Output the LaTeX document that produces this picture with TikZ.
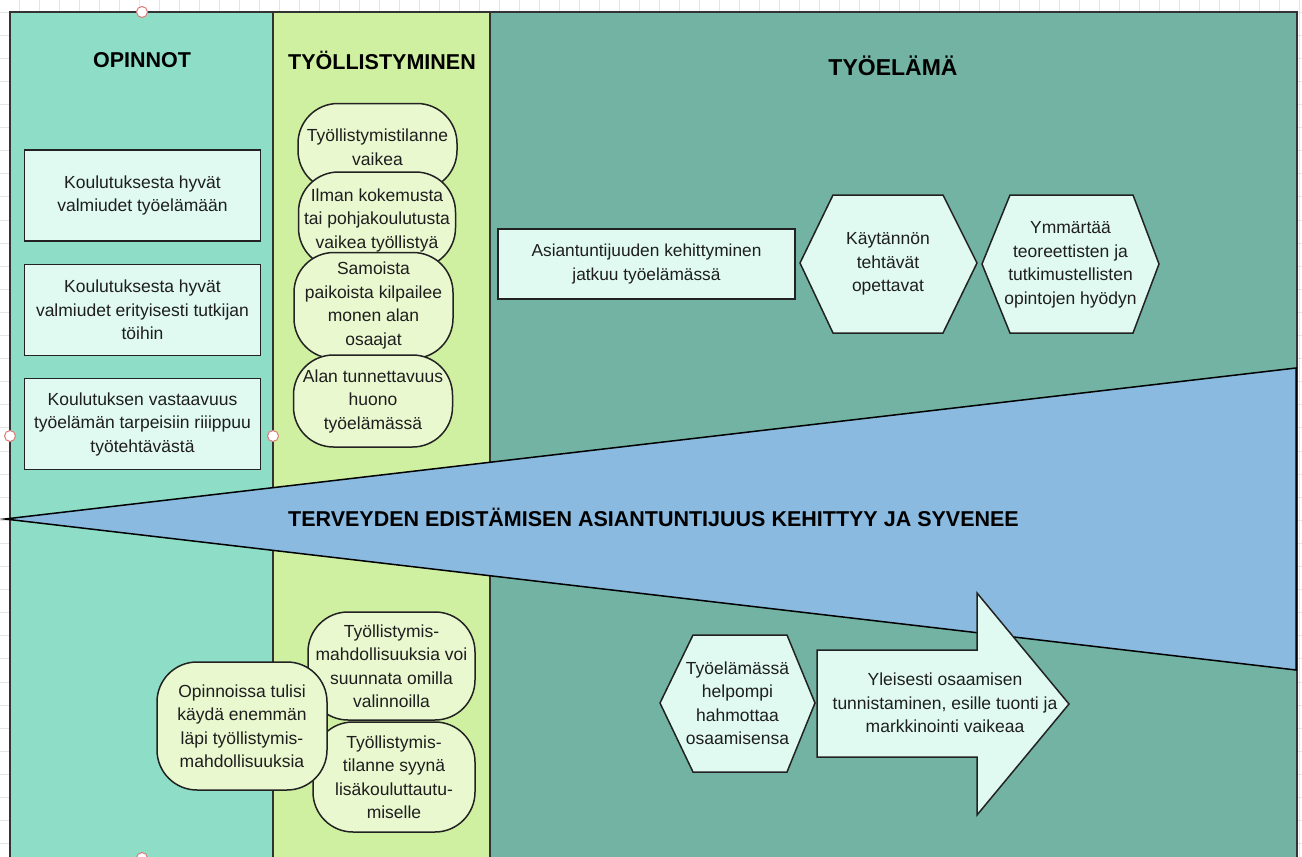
\documentclass[tikz,border=0pt]{standalone}
\usepackage{fontspec}
\setmainfont{Liberation Sans}
\definecolor{gridc}{HTML}{E4E4E4}
\definecolor{opcol}{HTML}{8EDDC7}
\definecolor{tycol}{HTML}{CFF0A0}
\definecolor{elcol}{HTML}{72B3A3}
\definecolor{wedgec}{HTML}{8ABAE0}
\definecolor{boxfill}{HTML}{E0FAF2}
\definecolor{stadfill}{HTML}{EAF8D0}
\definecolor{linec}{HTML}{222222}
\definecolor{framec}{HTML}{333333}
\definecolor{txt}{HTML}{1E1E1E}
\definecolor{handlec}{HTML}{E07878}
\newcommand{\bodyfont}{\fontsize{17.5}{23.5}\selectfont}
\newcommand{\headfont}{\fontsize{21.5}{26}\selectfont\bfseries}
\begin{document}
\begin{tikzpicture}[x=1pt,y=-1pt,
  gridline/.style={draw=gridc,line width=0.8pt},
  frame/.style={draw=framec,line width=2pt},
  heading/.style={font=\headfont,text=black,inner sep=0pt},
  lbox/.style={draw=linec,fill=boxfill,line width=1.6pt,minimum width=236,minimum height=91,
    align=center,text=txt,font=\bodyfont,inner sep=2pt},
  stad/.style={draw=linec,fill=stadfill,line width=1.5pt,rounded corners=40pt,
    align=center,text=txt,font=\bodyfont,inner sep=0pt},
  shapeline/.style={draw=linec,fill=boxfill,line width=1.5pt,line join=miter},
  plaintext/.style={align=center,text=txt,font=\bodyfont,inner sep=0pt},
  handle/.style={draw=handlec,fill=white,line width=1pt}]
\useasboundingbox (0,0) rectangle (1302,857);

% background grid
\fill[white] (0,0) rectangle (1302,857);
\foreach \gx in {19,39,...,1299} \draw[gridline] (\gx,0) -- (\gx,857);
\foreach \k in {0,...,37} \draw[gridline] (0,{12+23.1*\k}) -- (1302,{12+23.1*\k});

% three columns
\fill[opcol] (10,12) rectangle (273,865);
\fill[tycol] (273,12) rectangle (490,865);
\fill[elcol] (490,12) rectangle (1297,865);
\draw[frame] (10,865) -- (10,12) -- (1297,12) -- (1297,865);
\draw[frame] (273,12) -- (273,865);
\draw[frame] (490,12) -- (490,865);

% column headings
\node[heading] (hOp) at (142,60) {OPINNOT};
\node[heading] (hTy) at (382,60) {TYÖLLISTYMINEN};
\node[heading,font=\fontsize{23}{27}\selectfont\bfseries] (hEl) at (893,66) {TYÖELÄMÄ};

% left column boxes
\node[lbox] (k1) at (142.5,195.5) {Koulutuksesta hyvät\\valmiudet työelämään};
\node[lbox] (k2) at (142.5,310) {Koulutuksesta hyvät\\valmiudet erityisesti tutkijan\\töihin};
\node[lbox] (k3) at (142.5,424) {Koulutuksen vastaavuus\\työelämän tarpeisiin riiippuu\\työtehtävästä};

% middle column, upper stack
\node[stad,minimum width=159,minimum height=87] (s1) at (377.5,147) {Työllistymistilanne\\vaikea};
\node[stad,minimum width=157,minimum height=96] (s2) at (377,220) {Ilman kokemusta\\tai pohjakoulutusta\\vaikea työllistyä};
\node[stad,minimum width=159,minimum height=106] (s3) at (373.5,305.5) {Samoista\\paikoista kilpailee\\monen alan\\osaajat};
\node[stad,minimum width=159,minimum height=92] (s4) at (373,401) {Alan tunnettavuus\\huono\\työelämässä};

% right column, upper row
\node[lbox,minimum width=297,minimum height=70,font=\fontsize{17.3}{23.5}\selectfont] (r1) at (646.5,264) {Asiantuntijuuden kehittyminen\\jatkuu työelämässä};
\path[shapeline] (800,263) -- (833,195) -- (943,195) -- (977,263) -- (943,333) -- (833,333) -- cycle;
\node[plaintext] (h1) at (888,264) {Käytännön\\tehtävät\\opettavat};
\path[shapeline] (982,264) -- (1010,195) -- (1133,195) -- (1159,264) -- (1133,333) -- (1010,333) -- cycle;
\node[plaintext] (h2) at (1070.5,265) {Ymmärtää\\teoreettisten ja\\tutkimustellisten\\opintojen hyödyn};

% widening wedge
\coordinate (wtip) at (5,519);
\path[draw=black,fill=wedgec,line width=1.5pt,line join=miter] (wtip) -- (1296,368) -- (1296,670) -- cycle;
\node[heading] (wedgetext) at (653.5,517) {TERVEYDEN EDISTÄMISEN ASIANTUNTIJUUS KEHITTYY JA SYVENEE};

% lower part
\node[stad,minimum width=167,minimum height=108] (b2) at (391.5,666) {Työllistymis-\\mahdollisuuksia voi\\suunnata omilla\\valinnoilla};
\node[stad,minimum width=162,minimum height=110] (b3) at (394,777) {Työllistymis-\\tilanne syynä\\lisäkouluttautu-\\miselle};
\node[stad,minimum width=170,minimum height=128] (b1) at (242,726) {Opinnoissa tulisi\\käydä enemmän\\läpi työllistymis-\\mahdollisuuksia};

\path[shapeline] (660,703) -- (693,635) -- (787,635) -- (815,703) -- (787,772) -- (693,772) -- cycle;
\node[plaintext] (h3) at (737.5,703) {Työelämässä\\helpompi\\hahmottaa\\osaamisensa};
\path[shapeline] (817,650) -- (977,650) -- (977,593) -- (1069,704) -- (977,815) -- (977,757) -- (817,757) -- cycle;
\node[plaintext] (a1) at (945,703) {Yleisesti osaamisen\\tunnistaminen, esille tuonti ja\\markkinointi vaikeaa};

% selection handles
\draw[handle] (142,12) circle (5.5);
\draw[handle] (10,436) circle (5.5);
\draw[handle] (273,436) circle (5.5);
\draw[handle] (142,858) circle (5.5);
\end{tikzpicture}
\end{document}
